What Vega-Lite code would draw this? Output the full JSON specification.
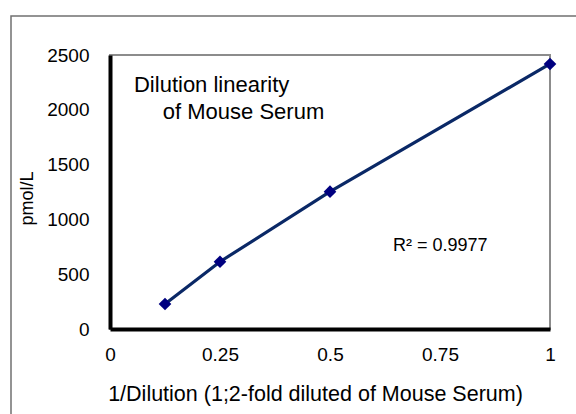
{
  "$schema": "https://vega.github.io/schema/vega-lite/v6.json",
  "width": 440,
  "height": 274,
  "autosize": {"type": "none"},
  "padding": {"left": 110, "top": 55, "right": 26, "bottom": 85},
  "background": "white",
  "config": {
    "font": "Liberation Sans",
    "view": {"stroke": "#8c8c8c", "strokeWidth": 2},
    "axis": {
      "domainColor": "black",
      "domainWidth": 4,
      "ticks": false,
      "grid": false,
      "labelFont": "Liberation Sans",
      "titleFont": "Liberation Sans",
      "labelColor": "black",
      "titleColor": "black",
      "titleFontWeight": "normal"
    }
  },
  "datasets": {
    "points": [
      {"inv_dilution": 0.125, "pmol": 228},
      {"inv_dilution": 0.25, "pmol": 614},
      {"inv_dilution": 0.5, "pmol": 1253},
      {"inv_dilution": 1, "pmol": 2418}
    ],
    "one": [{"note": "annotation"}]
  },
  "layer": [
    {
      "data": {"name": "one"},
      "mark": {"type": "rect", "fill": null, "filled": false, "stroke": "#707070", "strokeWidth": 1.5, "clip": false},
      "encoding": {
        "x": {"datum": -0.225, "type": "quantitative"},
        "x2": {"datum": 1.3},
        "y": {"datum": 2856, "type": "quantitative"},
        "y2": {"datum": -1200}
      }
    },
    {
      "data": {"name": "points"},
      "mark": {"type": "line", "color": "#0a2866", "strokeWidth": 3.2},
      "encoding": {
        "x": {
          "field": "inv_dilution",
          "type": "quantitative",
          "scale": {"domain": [0, 1], "nice": false},
          "axis": {
            "values": [0, 0.25, 0.5, 0.75, 1],
            "labelExpr": "datum.value + ''",
            "labelFontSize": 19,
            "labelPadding": 16,
            "title": "1/Dilution (1;2-fold diluted of  Mouse Serum)",
            "titleFontSize": 21.5,
            "titlePadding": 19,
            "titleX": 205,
            "titleAnchor": null,
            "titleAlign": "center",
            "labelFlush": false
          }
        },
        "y": {
          "field": "pmol",
          "type": "quantitative",
          "scale": {"domain": [0, 2500], "nice": false, "zero": true},
          "axis": {
            "values": [0, 500, 1000, 1500, 2000, 2500],
            "format": "d",
            "labelFontSize": 19,
            "labelPadding": 21,
            "title": "pmol/L",
            "titleFontSize": 18,
            "titlePadding": 10,
            "titleY": 143,
            "titleAlign": "center",
            "labelFlush": false
          }
        }
      }
    },
    {
      "data": {"name": "points"},
      "mark": {"type": "point", "shape": "diamond", "filled": true, "color": "#000080", "size": 160, "opacity": 1},
      "encoding": {
        "x": {"field": "inv_dilution", "type": "quantitative"},
        "y": {"field": "pmol", "type": "quantitative"}
      }
    },
    {
      "data": {"name": "one"},
      "mark": {"type": "text", "text": "Dilution linearity", "align": "left", "baseline": "middle", "fontSize": 22, "font": "Liberation Sans", "color": "black"},
      "encoding": {
        "x": {"datum": 0.0545, "type": "quantitative"},
        "y": {"datum": 2226, "type": "quantitative"}
      }
    },
    {
      "data": {"name": "one"},
      "mark": {"type": "text", "text": "of Mouse Serum", "align": "left", "baseline": "middle", "fontSize": 22, "font": "Liberation Sans", "color": "black"},
      "encoding": {
        "x": {"datum": 0.12, "type": "quantitative"},
        "y": {"datum": 1980, "type": "quantitative"}
      }
    },
    {
      "data": {"name": "one"},
      "mark": {"type": "text", "text": "R² = 0.9977", "align": "left", "baseline": "middle", "fontSize": 18, "font": "Liberation Sans", "color": "black"},
      "encoding": {
        "x": {"datum": 0.643, "type": "quantitative"},
        "y": {"datum": 757, "type": "quantitative"}
      }
    }
  ]
}
